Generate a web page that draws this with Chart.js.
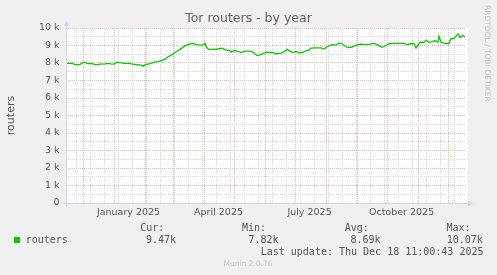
<!DOCTYPE html>
<html>
<head>
<meta charset="utf-8">
<script src="https://cdn.jsdelivr.net/npm/chart.js@4/dist/chart.umd.min.js"></script>
<style>
  html, body { margin: 0; padding: 0; background: #f0f0f0; overflow: hidden; }
  canvas { display: block; }
</style>
</head>
<body>
<canvas id="torChart" width="497" height="275"></canvas>
<script>
// days since the start of the 400 day window (2024-11-13 11:00 UTC)
let days = [1, 6, 10, 14, 18, 22, 26, 30, 34, 39, 42, 45, 48, 51, 54, 58, 63, 67, 71, 75,
  77, 80, 84, 89, 93, 96, 99, 102, 106, 109, 112, 115, 118, 122, 125, 127, 130, 134, 137, 139,
  141, 143, 148, 152, 156, 160, 163, 165, 168, 171, 175, 180, 185, 188, 191, 195, 200, 203, 206, 210,
  215, 218, 221, 225, 227, 230, 233, 236, 240, 243, 245, 250, 255, 258, 261, 266, 270, 273, 276, 280,
  282, 285, 288, 292, 295, 300, 304, 308, 311, 316, 319, 323, 326, 332, 338, 341, 345, 348, 350, 352,
  354, 358, 360, 363, 366, 369, 372, 373, 375, 378, 383, 385, 388, 389, 392, 394, 397, 399];
let routers = [7980, 7980, 7900, 7920, 8050, 7970, 7970, 7890, 7930, 7950, 7980, 7950, 7940, 8050, 8020, 7980, 7980, 7930, 7900, 7880,
  7820, 7920, 7970, 8060, 8080, 8150, 8220, 8350, 8470, 8600, 8700, 8820, 8950, 9050, 9100, 9120, 9050, 9020, 9030, 9120,
  8850, 8780, 8780, 8800, 8850, 8740, 8740, 8620, 8700, 8680, 8610, 8680, 8680, 8570, 8420, 8480, 8620, 8600, 8600, 8520,
  8570, 8630, 8780, 8650, 8600, 8660, 8570, 8600, 8700, 8740, 8850, 8860, 8860, 8800, 8930, 9050, 9020, 9150, 9100, 8930,
  8880, 8900, 8970, 9050, 9080, 9050, 9080, 9120, 9050, 8900, 8970, 9100, 9120, 9120, 9120, 9050, 9100, 9100, 8860, 9000,
  9180, 9180, 9310, 9180, 9220, 9270, 9200, 9540, 9200, 9120, 9120, 9390, 9390, 9460, 9660, 9460, 9580, 9470];

let yTickStep = 500;
let xLabels = ['January 2025', 'April 2025', 'July 2025', 'October 2025'];

let legendHead = ['Cur:', 'Min:', 'Avg:', 'Max:'];
let legendVals = ['9.47k', '7.82k', '8.69k', '10.07k'];

const DAY = 86400000;
const start = Date.UTC(2024, 10, 13, 11);
function dayOf(y, m, d) { return (Date.UTC(y, m, d) - start) / DAY; }

// month lines (red), two-week lines (grey), label positions
let xTicks = [];
for (let m = 11; m <= 23; m++) {
  xTicks.push({value: dayOf(2024, m, 1), kind: 'month'});
}
for (let d = dayOf(2024, 10, 24); d < 400; d += 14) {
  xTicks.push({value: d, kind: 'week'});
}
[0, 3, 6, 9].forEach((m, i) => {
  xTicks.push({value: dayOf(2025, m, 15), kind: 'label', text: xLabels[i]});
});
xTicks.sort((a, b) => a.value - b.value);

const RED = '#eeb2b2';
const GREY = '#d6d6d6';
const AXIS = '#cdd4f7';
const FONT = '#555555';

const rrdDecor = {
  id: 'rrdDecor',
  beforeDraw(chart) {
    const c = chart.ctx, a = chart.chartArea;
    c.save();
    c.fillStyle = '#f0f0f0';
    c.fillRect(0, 0, chart.width, chart.height);
    c.fillStyle = '#ffffff';
    c.fillRect(a.left, a.top, a.right - a.left + 2, a.bottom - a.top);
    c.restore();
  },
  afterDraw(chart) {
    const c = chart.ctx, a = chart.chartArea;
    c.save();
    // axes with arrows
    c.strokeStyle = AXIS;
    c.lineWidth = 1;
    c.beginPath();
    c.moveTo(a.left - 4, a.bottom + 0.5);
    c.lineTo(a.right + 3, a.bottom + 0.5);
    c.moveTo(a.left + 0.5, a.bottom + 4);
    c.lineTo(a.left + 0.5, a.top - 3);
    c.stroke();
    c.fillStyle = AXIS;
    c.beginPath();
    c.moveTo(a.right + 2, a.bottom - 2.5);
    c.lineTo(a.right + 7, a.bottom + 0.5);
    c.lineTo(a.right + 2, a.bottom + 3.5);
    c.fill();
    c.beginPath();
    c.moveTo(a.left - 2.5, a.top - 2);
    c.lineTo(a.left + 0.5, a.top - 7);
    c.lineTo(a.left + 3.5, a.top - 2);
    c.fill();

    // title
    c.fillStyle = '#606060';
    c.font = '12.5px "DejaVu Sans"';
    c.textAlign = 'center';
    c.textBaseline = 'middle';
    c.fillText('Tor routers - by year', 248.5, 19);

    // legend
    c.fillStyle = '#00cc00';
    c.fillRect(14, 237, 6, 6);
    c.fillStyle = FONT;
    c.font = '10px "DejaVu Sans Mono"';
    c.textAlign = 'left';
    c.fillText('routers', 25.7, 240);
    const headX = [140.3, 242, 344.7, 446.5];
    const valX = [146, 248.4, 350.4, 446.7];
    legendHead.forEach((t, i) => c.fillText(t, headX[i], 228.3));
    legendVals.forEach((t, i) => c.fillText(t, valX[i], 240));
    c.fillText('Last update: Thu Dec 18 11:00:43 2025', 260.7, 252);

    c.fillStyle = '#c8c8c8';
    c.font = '7.5px "DejaVu Sans"';
    c.textAlign = 'center';
    c.fillText('Munin 2.0.76', 248, 264);

    // rrdtool watermark
    c.translate(487, 5);
    c.rotate(Math.PI / 2);
    c.textAlign = 'left';
    c.fillStyle = '#c4c4c4';
    c.font = '7.5px "DejaVu Sans"';
    c.fillText('RRDTOOL / TOBI OETIKER', 0, 0);
    c.restore();
  }
};

new Chart(document.getElementById('torChart'), {
  type: 'line',
  data: {
    datasets: [{
      label: 'routers',
      data: days.map((d, i) => ({x: d, y: routers[i]})),
      borderColor: '#00cc00',
      borderWidth: 1.3,
      pointRadius: 0,
      tension: 0,
      fill: false
    }]
  },
  options: {
    responsive: false,
    animation: false,
    devicePixelRatio: 1,
    layout: {padding: {top: 28, right: 31, bottom: 0, left: 0}},
    plugins: {legend: {display: false}, tooltip: {enabled: false}, title: {display: false}},
    scales: {
      x: {
        type: 'linear',
        min: 0,
        max: 400,
        afterBuildTicks: (scale) => { scale.ticks = xTicks.map(t => Object.assign({}, t)); },
        afterFit: (scale) => { scale.height = 72; },
        ticks: {
          autoSkip: false,
          maxRotation: 0,
          padding: 3.5,
          color: FONT,
          font: {family: 'DejaVu Sans', size: 9.5},
          callback: (v, i, ticks) => ticks[i].kind === 'label' ? ticks[i].text : ''
        },
        grid: {
          drawTicks: false,
          lineWidth: 1,
          color: (ctx) => {
            const k = ctx.tick && ctx.tick.kind;
            return k === 'month' ? RED : k === 'week' ? GREY : 'rgba(0,0,0,0)';
          }
        },
        border: {display: false, dash: [1, 1]}
      },
      y: {
        min: 0,
        max: 10000,
        afterFit: (scale) => { scale.width = 66; },
        ticks: {
          stepSize: yTickStep,
          autoSkip: false,
          padding: 6.5,
          color: FONT,
          font: {family: 'DejaVu Sans', size: 9.5},
          callback: (v) => v % 1000 !== 0 ? '' : (v === 0 ? '0' : (v / 1000) + ' k')
        },
        title: {
          display: true,
          text: 'routers',
          color: FONT,
          font: {family: 'DejaVu Sans', size: 11},
          padding: {top: 4.6, bottom: 0}
        },
        grid: {
          drawTicks: false,
          lineWidth: 1,
          color: (ctx) => ctx.tick && ctx.tick.value % 1000 === 0 ? RED : GREY
        },
        border: {display: false, dash: [1, 1]}
      }
    }
  },
  plugins: [rrdDecor]
});
</script>
</body>
</html>
